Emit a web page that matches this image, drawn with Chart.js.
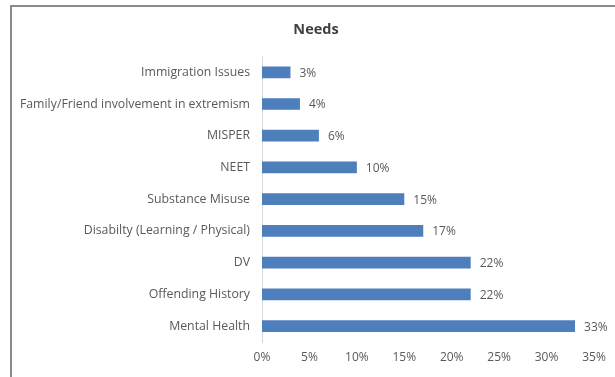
<!DOCTYPE html>
<html>
<head>
<meta charset="utf-8">
<script src="https://cdn.jsdelivr.net/npm/chart.js@4/dist/chart.umd.min.js"></script>
<style>
  body { margin: 0; background: #fff; }
  #wrap { position: relative; width: 615px; height: 377px; overflow: hidden; }
  #frame {
    position: absolute; left: 10px; top: 5px; width: 700px; height: 500px;
    border-left: 2px solid #8a8a8a; border-top: 2px solid #8a8a8a;
  }
  canvas { position: absolute; left: 0; top: 0; }
</style>
</head>
<body>
<div id="wrap">
  <div id="frame"></div>
  <canvas id="js--chart-needs" width="615" height="377"></canvas>
</div>
<script>
const needs = [
    "Immigration Issues",
    "Family/Friend involvement in extremism",
    "MISPER",
    "NEET",
    "Substance Misuse",
    "Disabilty (Learning / Physical)",
    "DV",
    "Offending History",
    "Mental Health"
];
const percentages = [3, 4, 6, 10, 15, 17, 22, 22, 33];
const xTicks = [0, 5, 10, 15, 20, 25, 30, 35];

const textGrey = "#595959";
const fontName = "'Open Sans', 'Liberation Sans', sans-serif";

// puts the "33%" style label just after the end of every bar
const valueLabels = {
    id: "valueLabels",
    afterDatasetsDraw(chart) {
        const ctx = chart.ctx;
        const meta = chart.getDatasetMeta(0);
        ctx.save();
        ctx.font = "12px " + fontName;
        ctx.fillStyle = textGrey;
        ctx.textAlign = "left";
        ctx.textBaseline = "middle";
        meta.data.forEach(function(bar, i){
            ctx.fillText(percentages[i] + "%", bar.x + 9, bar.y + 1);
        });
        ctx.restore();
    }
};

// centre the title over the whole frame instead of the padded box
const titleToFrame = {
    id: "titleToFrame",
    afterLayout(chart) {
        chart.titleBlock.left = 17;
        chart.titleBlock.right = 615;
    }
};

const data = {
    labels: needs,
    datasets: [
        {
            label: "Needs",
            data: percentages,
            backgroundColor: "#4e7fbd",
            barPercentage: 0.37,
            categoryPercentage: 1
        }
    ]
};

const config = {
    type: "bar",
    data: data,
    plugins: [valueLabels, titleToFrame],
    options: {
        indexAxis: "y",
        responsive: false,
        animation: false,
        layout: { padding: { left: 11, right: 21, top: 6, bottom: 0 } },
        plugins: {
            legend: { display: false },
            tooltip: { enabled: false },
            title: {
                display: true,
                text: "Needs",
                color: "#404040",
                font: { family: fontName, size: 14.5, weight: "bold" },
                padding: { top: 15, bottom: 18 }
            }
        },
        scales: {
            x: {
                min: 0,
                max: 35,
                afterBuildTicks: function(scale){
                    scale.ticks = xTicks.map(function(v){ return { value: v }; });
                },
                afterFit: function(scale){ scale.height = 35; },
                grid: { display: false, drawTicks: false },
                border: { display: false },
                ticks: {
                    color: textGrey,
                    padding: 8,
                    font: { family: fontName, size: 12 },
                    callback: function(v){ return v + "%"; }
                }
            },
            y: {
                afterFit: function(scale){ scale.width = 251; },
                grid: { display: false, drawTicks: false },
                border: { display: true, color: "#d9d9d9", width: 1 },
                ticks: {
                    color: textGrey,
                    padding: 12,
                    font: { family: fontName, size: 12.3 }
                }
            }
        }
    }
};

const chart1 = new Chart(document.getElementById("js--chart-needs"), config);
</script>
</body>
</html>
